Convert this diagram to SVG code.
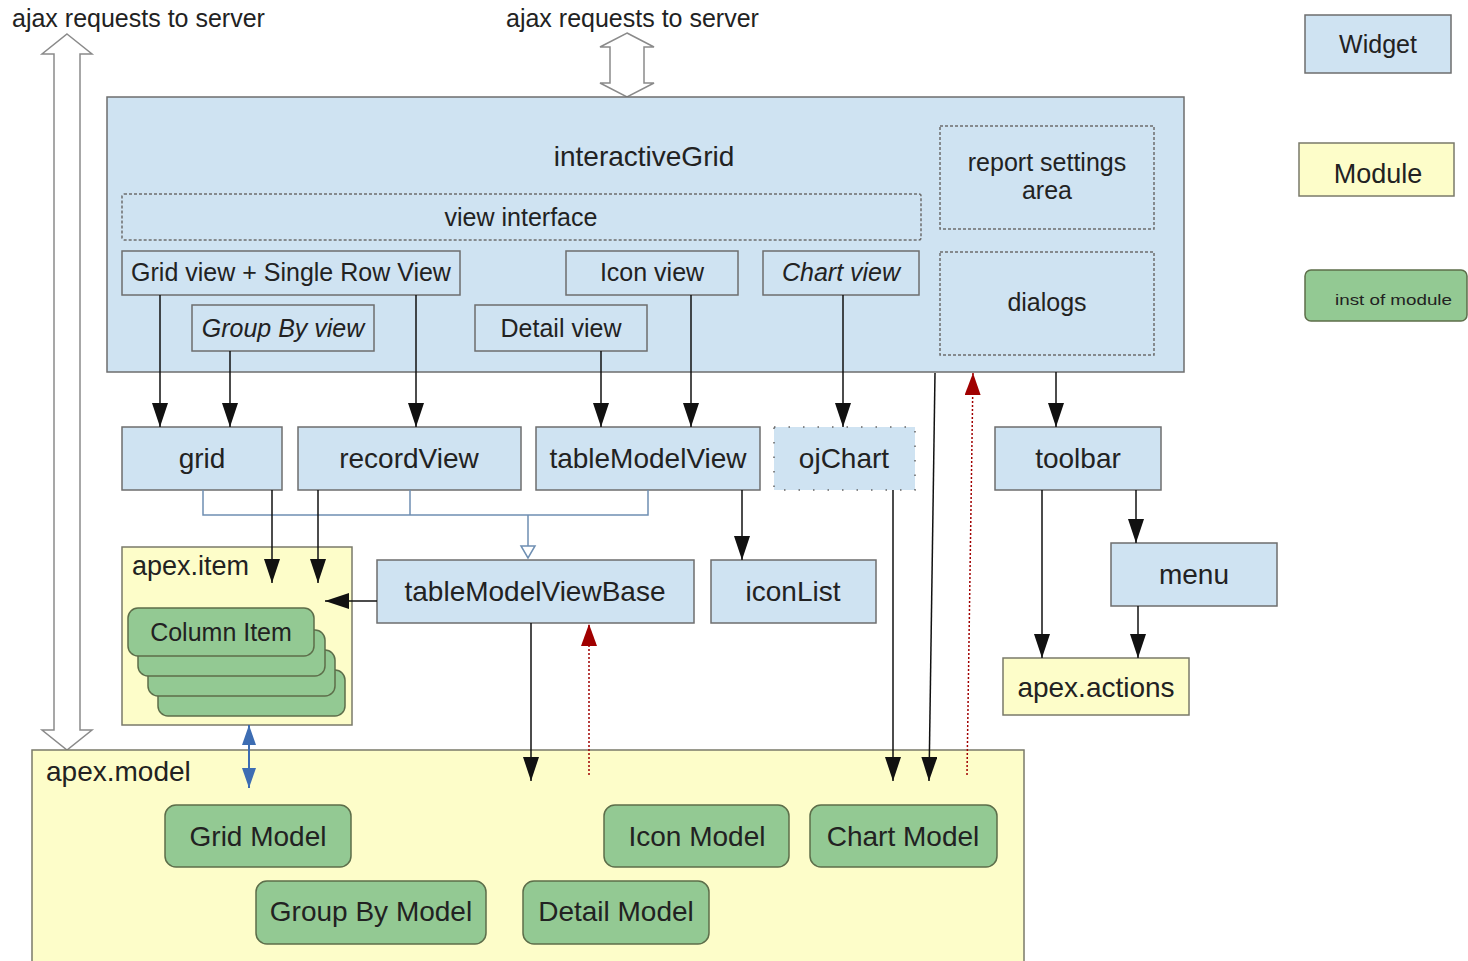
<svg xmlns="http://www.w3.org/2000/svg" width="1468" height="961" viewBox="0 0 1468 961">
<style>
text{font-family:"Liberation Sans",Arial,sans-serif;fill:#222;}
.t28{font-size:28px;text-anchor:middle;}
.t25{font-size:25px;text-anchor:middle;}
.it{font-style:italic;}
.w{fill:#cfe3f2;stroke:#6e6e6e;stroke-width:1.5;}
.m{fill:#fdfdc9;stroke:#7a7a6a;stroke-width:1.5;}
.g{fill:#93c993;stroke:#5d6e4a;stroke-width:1.5;}
.dash{fill:none;stroke:#6e6e6e;stroke-width:1.5;stroke-dasharray:3 2;}
.ln{stroke:#111;stroke-width:1.5;fill:none;}
.red{stroke:#a00000;stroke-width:1.5;stroke-dasharray:2 2;fill:none;}
.inh{stroke:#6f8fb2;stroke-width:1.5;fill:none;}
.big{fill:#fff;stroke:#8a8a8a;stroke-width:1.5;}
</style>
<defs>
<marker id="ah" markerUnits="userSpaceOnUse" markerWidth="24" markerHeight="16" viewBox="0 0 24 16" refX="24" refY="8" orient="auto"><path d="M0,0 L24,8 L0,16 z" fill="#111"/></marker>
<marker id="ahr" markerUnits="userSpaceOnUse" markerWidth="22" markerHeight="16" viewBox="0 0 22 16" refX="22" refY="8" orient="auto"><path d="M0,0 L22,8 L0,16 z" fill="#a00000"/></marker>
<marker id="ahb" markerUnits="userSpaceOnUse" markerWidth="20" markerHeight="14" viewBox="0 0 20 14" refX="20" refY="7" orient="auto"><path d="M0,0 L20,7 L0,14 z" fill="#3d6db3"/></marker>
<marker id="ahbs" markerUnits="userSpaceOnUse" markerWidth="20" markerHeight="14" viewBox="0 0 20 14" refX="0" refY="7" orient="auto"><path d="M20,0 L0,7 L20,14 z" fill="#3d6db3"/></marker>
</defs>

<!-- top labels and ajax arrows -->
<text x="12" y="27" style="font-size:25px">ajax requests to server</text>
<text x="506" y="27" style="font-size:25px">ajax requests to server</text>
<polygon class="big" points="67,34 92,54 80,54 80,730 92,730 67,750 42,730 54,730 54,54 42,54"/>
<polygon class="big" points="627,33 654,47 644,47 644,83 654,83 627,97 600,83 610,83 610,47 600,47"/>

<!-- containers -->
<g id="apex-model">
<rect class="m" x="32" y="750" width="992" height="220"/>
<text x="46" y="781" style="font-size:28px">apex.model</text>
</g>
<g id="interactiveGrid">
<rect class="w" x="107" y="97" width="1077" height="275"/>
<text class="t28" x="644" y="166">interactiveGrid</text>
</g>
<g id="view-interface">
<rect class="dash" x="122" y="194" width="799" height="46" rx="2"/>
<text class="t25" x="521" y="226">view interface</text>
</g>
<g id="report-settings">
<rect class="dash" x="940" y="126" width="214" height="103"/>
<text class="t25" x="1047" y="171">report settings</text>
<text class="t25" x="1047" y="199">area</text>
</g>
<g id="dialogs">
<rect class="dash" x="940" y="252" width="214" height="103"/>
<text class="t25" x="1047" y="311">dialogs</text>
</g>
<g id="grid-view">
<rect class="w" x="122" y="251" width="338" height="44"/>
<text class="t25" x="291" y="281">Grid view + Single Row View</text>
</g>
<g id="group-by-view">
<rect class="w" x="192" y="305" width="182" height="46"/>
<text class="t25 it" x="283" y="337">Group By view</text>
</g>
<g id="detail-view">
<rect class="w" x="475" y="305" width="172" height="46"/>
<text class="t25" x="561" y="337">Detail view</text>
</g>
<g id="icon-view">
<rect class="w" x="566" y="251" width="172" height="44"/>
<text class="t25" x="652" y="281">Icon view</text>
</g>
<g id="chart-view">
<rect class="w" x="763" y="251" width="156" height="44"/>
<text class="t25 it" x="841" y="281">Chart view</text>
</g>

<!-- second row -->
<g id="grid">
<rect class="w" x="122" y="427" width="160" height="63"/>
<text class="t28" x="202" y="468">grid</text>
</g>
<g id="recordView">
<rect class="w" x="298" y="427" width="223" height="63"/>
<text class="t28" x="409" y="468">recordView</text>
</g>
<g id="tableModelView">
<rect class="w" x="536" y="427" width="224" height="63"/>
<text class="t28" x="648" y="468">tableModelView</text>
</g>
<g id="ojChart">
<rect x="774" y="427" width="141" height="63" fill="#cfe3f2" stroke="#666" stroke-width="1.5" stroke-dasharray="1.5 13"/>
<text class="t28" x="844" y="468">ojChart</text>
</g>
<g id="toolbar">
<rect class="w" x="995" y="427" width="166" height="63"/>
<text class="t28" x="1078" y="468">toolbar</text>
</g>
<g id="apex-item">
<rect class="m" x="122" y="547" width="230" height="178"/>
<text x="132" y="575" style="font-size:27px">apex.item</text>
<rect class="g" x="158" y="670" width="187" height="46" rx="10"/>
<rect class="g" x="148" y="650" width="187" height="46" rx="10"/>
<rect class="g" x="138" y="630" width="187" height="46" rx="10"/>
<rect class="g" x="128" y="608" width="186" height="48" rx="10"/>
<text class="t25" x="221" y="641">Column Item</text>
</g>
<g id="tableModelViewBase">
<rect class="w" x="377" y="560" width="317" height="63"/>
<text class="t28" x="535" y="601">tableModelViewBase</text>
</g>
<g id="iconList">
<rect class="w" x="711" y="560" width="165" height="63"/>
<text class="t28" x="793" y="601">iconList</text>
</g>
<g id="menu">
<rect class="w" x="1111" y="543" width="166" height="63"/>
<text class="t28" x="1194" y="584">menu</text>
</g>
<g id="apex-actions">
<rect class="m" x="1003" y="658" width="186" height="57"/>
<text class="t28" x="1096" y="697">apex.actions</text>
</g>

<!-- models -->
<g id="grid-model">
<rect class="g" x="165" y="805" width="186" height="62" rx="11"/>
<text class="t28" x="258" y="846">Grid Model</text>
</g>
<g id="group-by-model">
<rect class="g" x="256" y="881" width="230" height="63" rx="11"/>
<text class="t28" x="371" y="921">Group By Model</text>
</g>
<g id="detail-model">
<rect class="g" x="523" y="881" width="186" height="63" rx="11"/>
<text class="t28" x="616" y="921">Detail Model</text>
</g>
<g id="icon-model">
<rect class="g" x="604" y="805" width="185" height="62" rx="11"/>
<text class="t28" x="697" y="846">Icon Model</text>
</g>
<g id="chart-model">
<rect class="g" x="810" y="805" width="187" height="62" rx="11"/>
<text class="t28" x="903" y="846">Chart Model</text>
</g>

<!-- legend -->
<g id="legend-widget">
<rect class="w" x="1305" y="15" width="146" height="58"/>
<text class="t25" x="1378" y="53">Widget</text>
</g>
<g id="legend-module">
<rect class="m" x="1299" y="143" width="155" height="53"/>
<text x="1378" y="183" style="font-size:27px;text-anchor:middle">Module</text>
</g>
<g id="legend-inst">
<rect class="g" x="1305" y="270" width="162" height="51" rx="6"/>
<text x="1335" y="305" style="font-size:14px" textLength="117" lengthAdjust="spacingAndGlyphs">inst of module</text>
</g>

<!-- connectors -->
<g id="connectors">
<line class="ln" x1="160" y1="295" x2="160" y2="427" marker-end="url(#ah)"/>
<line class="ln" x1="230" y1="351" x2="230" y2="427" marker-end="url(#ah)"/>
<line class="ln" x1="416" y1="295" x2="416" y2="427" marker-end="url(#ah)"/>
<line class="ln" x1="601" y1="351" x2="601" y2="427" marker-end="url(#ah)"/>
<line class="ln" x1="691" y1="295" x2="691" y2="427" marker-end="url(#ah)"/>
<line class="ln" x1="843" y1="295" x2="843" y2="427" marker-end="url(#ah)"/>
<line class="ln" x1="1056" y1="372" x2="1056" y2="427" marker-end="url(#ah)"/>
<path class="inh" d="M203,490 V515 H648 V490 M410,490 V515 M528,515 V546"/>
<polygon points="521,546 535,546 528,558" fill="#fff" stroke="#6f8fb2" stroke-width="1.5"/>
<line class="ln" x1="272" y1="490" x2="272" y2="583" marker-end="url(#ah)"/>
<line class="ln" x1="318" y1="490" x2="318" y2="583" marker-end="url(#ah)"/>
<line class="ln" x1="377" y1="601" x2="325" y2="601" marker-end="url(#ah)"/>
<line class="ln" x1="742" y1="490" x2="742" y2="560" marker-end="url(#ah)"/>
<line class="ln" x1="531" y1="623" x2="531" y2="781" marker-end="url(#ah)"/>
<line class="red" x1="589" y1="775" x2="589" y2="624" marker-end="url(#ahr)"/>
<line class="ln" x1="893" y1="490" x2="893" y2="781" marker-end="url(#ah)"/>
<line class="ln" x1="935" y1="373" x2="929" y2="781" marker-end="url(#ah)"/>
<line class="red" x1="967" y1="775" x2="973" y2="373" marker-end="url(#ahr)"/>
<line class="ln" x1="1042" y1="490" x2="1042" y2="658" marker-end="url(#ah)"/>
<line class="ln" x1="1136" y1="490" x2="1136" y2="543" marker-end="url(#ah)"/>
<line class="ln" x1="1138" y1="606" x2="1138" y2="658" marker-end="url(#ah)"/>
<line x1="249" y1="725" x2="249" y2="788" stroke="#3d6db3" stroke-width="2" marker-start="url(#ahbs)" marker-end="url(#ahb)"/>
</g>
</svg>
